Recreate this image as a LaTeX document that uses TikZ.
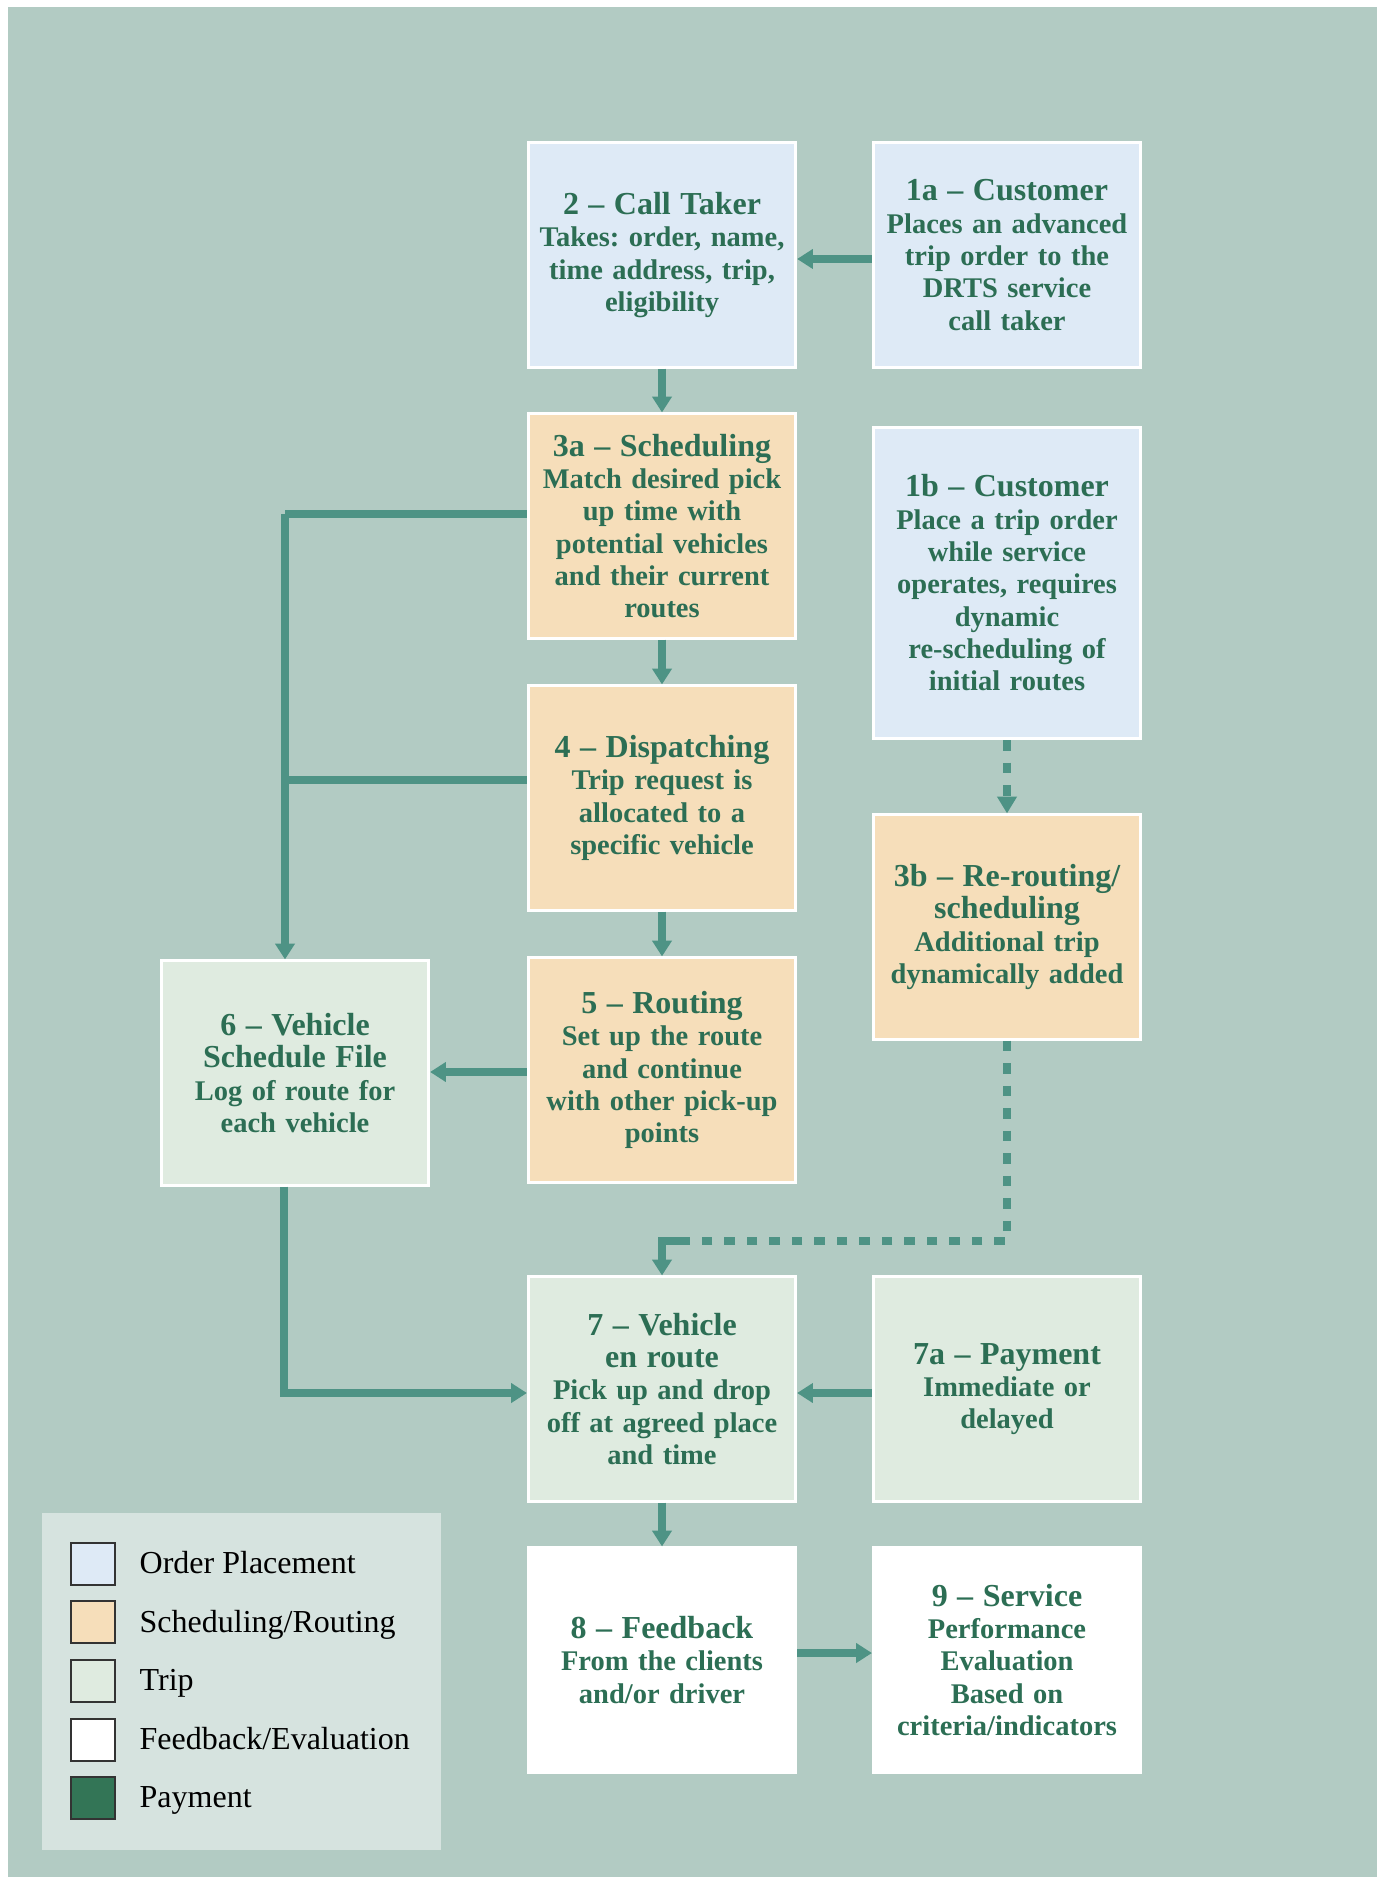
\documentclass[tikz,border=0pt]{standalone}
\usepackage{fontspec}
\setmainfont{Liberation Serif}
\usetikzlibrary{arrows.meta,calc}

\definecolor{bgcol}{RGB}{178,203,195}
\definecolor{legcol}{RGB}{214,227,223}
\definecolor{ordercol}{RGB}{222,234,246}
\definecolor{schedcol}{RGB}{246,222,186}
\definecolor{tripcol}{RGB}{223,235,224}
\definecolor{paycol}{RGB}{51,117,86}
\definecolor{arrcol}{RGB}{78,147,133}
\definecolor{txtcol}{RGB}{44,110,84}

\newcommand{\ttl}[1]{{\fontsize{9.1}{9.2}\selectfont #1}}
\frenchspacing

\tikzset{
  box/.style={rectangle, draw=white, line width=0.85pt, minimum width=2.67cm,
    minimum height=2.24cm, text width=2.6cm, align=center, inner sep=0pt,
    text=txtcol, font=\bfseries\fontsize{8.1}{9.2}\selectfont},
  order/.style={box, fill=ordercol},
  sched/.style={box, fill=schedcol},
  trip/.style={box, fill=tripcol},
  feed/.style={box, fill=white},
  flow/.style={draw=arrcol, line width=2.1pt, -{Triangle[length=4.5pt,width=5.4pt]}},
  bus/.style={draw=arrcol, line width=2.1pt},
  dashline/.style={draw=arrcol, line width=2.2pt, dash pattern=on 3pt off 3.4pt},
  swatch/.style={draw=black!80, line width=0.35pt, minimum width=0.44cm,
    minimum height=0.42cm, inner sep=0pt},
  legtext/.style={anchor=base west, inner sep=0pt, font=\fontsize{9.1}{11}\selectfont}
}

\begin{document}
\begin{tikzpicture}[x=0.01cm,y=-0.01cm]
\useasboundingbox (0,0) rectangle (1382,1877);
\fill[white] (0,0) rectangle (1382,1877);
\fill[bgcol] (8,7) rectangle (1377,1877);

% boxes
\node[order] (b2) at (662,255) {\ttl{2 -- Call Taker}\\Takes: order, name,\\time address, trip,\\eligibility};
\node[order] (b1a) at (1007,255) {\ttl{1a -- Customer}\\Places an advanced\\trip order to the\\DRTS service\\call taker};
\node[sched] (b3a) at (662,526) {\ttl{3a -- Scheduling}\\Match desired pick\\up time with\\potential vehicles\\and their current\\routes};
\node[order, minimum height=3.11cm] (b1b) at (1007,583) {\ttl{1b -- Customer}\\Place a trip order\\while service\\operates, requires\\dynamic\\re-scheduling of\\initial routes};
\node[sched] (b4) at (662,798) {\ttl{4 -- Dispatching}\\Trip request is\\allocated to a\\specific vehicle};
\node[sched] (b3b) at (1007,927) {\ttl{3b -- Re-routing/}\\\ttl{scheduling}\\Additional trip\\dynamically added};
\node[sched] (b5) at (662,1070) {\ttl{5 -- Routing}\\Set up the route\\and continue\\with other pick-up\\points};
\node[trip] (b6) at (295,1073) {\ttl{6 -- Vehicle}\\\ttl{Schedule File}\\Log of route for\\each vehicle};
\node[trip] (b7) at (662,1389) {\ttl{7 -- Vehicle}\\\ttl{en route}\\Pick up and drop\\off at agreed place\\and time};
\node[trip] (b7a) at (1007,1389) {\ttl{7a -- Payment}\\Immediate or\\delayed};
\node[feed] (b8) at (662,1660) {\ttl{8 -- Feedback}\\From the clients\\and/or driver};
\node[feed] (b9) at (1007,1660) {\ttl{9 -- Service}\\Performance\\Evaluation\\Based on\\criteria/indicators};

% connectors
\coordinate (bustop) at (285,514);
\coordinate (busmid) at (285,780);
\coordinate (crn) at (684,1241);
\draw[flow] ($(b1a.west)+(0,4)$) -- ($(b2.east)+(0,4)$);
\draw[flow] (b2) -- (b3a);
\draw[flow] (b3a) -- (b4);
\draw[flow] (b4) -- (b5);
\draw[flow] (b7) -- (b8);
\draw[bus] ($(b3a.west)+(0,-12)$) -- (bustop);
\draw[bus] ($(b4.west)+(0,-18)$) -- (busmid);
\draw[flow] (bustop) -- (bustop |- b6.north);
\draw[flow] ($(b5.west)+(0,2)$) -- ($(b5.west -| b6.east)+(0,2)$);
\draw[flow] ($(b6.south)+(-11,0)$) |- ($(b7.west)+(0,4)$);
\draw[flow] ($(b7a.west)+(0,4)$) -- ($(b7.east)+(0,4)$);
\draw[flow] ($(b8.east)+(0,-7)$) -- ($(b9.west)+(0,-7)$);
\draw[dashline, -{Triangle[length=4.8pt,width=5.4pt]}] (b1b) -- (b3b);
\draw[dashline] (b3b.south) |- (crn);
\draw[flow] (crn) -| (b7.north);

% legend
\fill[legcol] (42,1513) rectangle (441,1850);
\node[swatch, fill=ordercol] (sw1) at (93,1564) {};
\node[swatch, fill=schedcol] (sw2) at (93,1622) {};
\node[swatch, fill=tripcol] (sw3) at (93,1681) {};
\node[swatch, fill=white] (sw4) at (93,1740) {};
\node[swatch, fill=paycol] (sw5) at (93,1798) {};
\node[legtext] (lt1) at (139,1573) {Order Placement};
\node[legtext] (lt2) at (139,1632) {Scheduling/Routing};
\node[legtext] (lt3) at (139,1690) {Trip};
\node[legtext] (lt4) at (139,1749) {Feedback/Evaluation};
\node[legtext] (lt5) at (139,1807) {Payment};
\end{tikzpicture}
\end{document}
